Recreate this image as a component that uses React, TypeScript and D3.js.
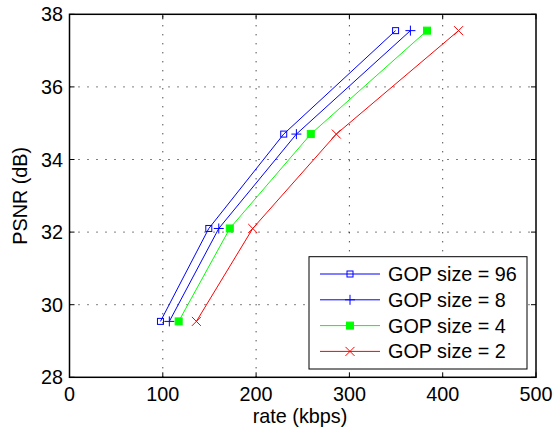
import React from "react";
import * as d3 from "d3";

const psnr = [29.54, 32.1, 34.7, 37.55];
const rateGop96 = [97.5, 149.3, 229.6, 349.5];
const rateGop8 = [107, 160, 243.2, 365.4];
const rateGop4 = [117, 171.8, 258.6, 383.2];
const rateGop2 = [136, 196.4, 286, 417];
const seriesLabels = ["GOP size = 96", "GOP size = 8", "GOP size = 4", "GOP size = 2"];
const xTicks = [0, 100, 200, 300, 400, 500];
const yTicks = [28, 30, 32, 34, 36, 38];

const W = 557, H = 428;
const L = 69.5, R = 536, T = 14.3, B = 377.3;
const FONT = "'Liberation Sans', Arial, Helvetica, sans-serif";
const FS = 19.8;

type Kind = "sq" | "plus" | "fsq" | "x";
const series: { rates: number[]; color: string; kind: Kind; label: string }[] = [
  { rates: rateGop96, color: "#0000ff", kind: "sq", label: seriesLabels[0] },
  { rates: rateGop8, color: "#0000ff", kind: "plus", label: seriesLabels[1] },
  { rates: rateGop4, color: "#00ff00", kind: "fsq", label: seriesLabels[2] },
  { rates: rateGop2, color: "#ff0000", kind: "x", label: seriesLabels[3] },
];

function Marker({ kind, x, y, color }: { kind: Kind; x: number; y: number; color: string }) {
  if (kind === "sq") return <rect x={x - 3} y={y - 3} width={6} height={6} fill="none" stroke={color} strokeWidth={1} />;
  if (kind === "fsq") return <rect x={x - 3.5} y={y - 3.5} width={7} height={7} fill={color} stroke={color} strokeWidth={1} />;
  if (kind === "plus")
    return (
      <g stroke={color} strokeWidth={1}>
        <line x1={x - 5} y1={y} x2={x + 5} y2={y} />
        <line x1={x} y1={y - 5} x2={x} y2={y + 5} />
      </g>
    );
  return (
    <g stroke={color} strokeWidth={1}>
      <line x1={x - 4.5} y1={y - 4.5} x2={x + 4.5} y2={y + 4.5} />
      <line x1={x - 4.5} y1={y + 4.5} x2={x + 4.5} y2={y - 4.5} />
    </g>
  );
}

export default function App() {
  const xs = d3.scaleLinear().domain([0, 500]).range([L, R]);
  const ys = d3.scaleLinear().domain([28, 38]).range([B, T]);
  const line = d3.line<[number, number]>().x((d) => xs(d[0])).y((d) => ys(d[1]));

  const legX0 = 309, legY0 = 256.7, legW = 218, legH = 112.3;
  const rowY = (i: number) => 274 + i * 25.8;

  return (
    <svg width={W} height={H} style={{ position: "absolute", left: 0, top: 0, background: "#fff" }} fontFamily={FONT}>
      <rect x={0} y={0} width={W} height={H} fill="#fff" />
      {/* grid */}
      <g stroke="#000" strokeWidth={1} strokeDasharray="1,8">
        {xTicks.slice(1, -1).map((t) => (
          <line key={"gx" + t} x1={xs(t)} x2={xs(t)} y1={B} y2={T} />
        ))}
        {yTicks.slice(1, -1).map((t) => (
          <line key={"gy" + t} x1={L} x2={R} y1={ys(t)} y2={ys(t)} />
        ))}
      </g>
      {/* ticks */}
      <g stroke="#000" strokeWidth={1}>
        {xTicks.map((t) => (
          <g key={"tx" + t}>
            <line x1={xs(t)} x2={xs(t)} y1={B} y2={B - 5} />
            <line x1={xs(t)} x2={xs(t)} y1={T} y2={T + 5} />
          </g>
        ))}
        {yTicks.map((t) => (
          <g key={"ty" + t}>
            <line x1={L} x2={L + 5} y1={ys(t)} y2={ys(t)} />
            <line x1={R} x2={R - 5} y1={ys(t)} y2={ys(t)} />
          </g>
        ))}
      </g>
      {/* series */}
      {series.map((s, i) => {
        const pts: [number, number][] = s.rates.map((r, j) => [r, psnr[j]]);
        return (
          <g key={"s" + i}>
            <path d={line(pts) || ""} fill="none" stroke={s.color} strokeWidth={1} />
            {pts.map((p, j) => (
              <Marker key={j} kind={s.kind} x={xs(p[0])} y={ys(p[1])} color={s.color} />
            ))}
          </g>
        );
      })}
      {/* axes box */}
      <rect x={L} y={T} width={R - L} height={B - T} fill="none" stroke="#000" strokeWidth={1.5} />
      {/* tick labels */}
      <g fontSize={FS} fill="#000">
        {xTicks.map((t) => (
          <text key={"lx" + t} x={xs(t)} y={401} textAnchor="middle">
            {t}
          </text>
        ))}
        {yTicks.map((t) => (
          <text key={"ly" + t} x={63} y={ys(t) + 7} textAnchor="end">
            {t}
          </text>
        ))}
        <text x={300} y={422.5} textAnchor="middle">
          rate (kbps)
        </text>
        <text transform={`translate(27.3, ${(T + B) / 2}) rotate(-90)`} textAnchor="middle">
          PSNR (dB)
        </text>
      </g>
      {/* legend */}
      <rect x={legX0} y={legY0} width={legW} height={legH} fill="#fff" stroke="#000" strokeWidth={1} />
      {series.map((s, i) => (
        <g key={"lg" + i}>
          <line x1={320} x2={380} y1={rowY(i)} y2={rowY(i)} stroke={s.color} strokeWidth={1} />
          <Marker kind={s.kind} x={350} y={rowY(i)} color={s.color} />
          <text x={388} y={rowY(i) + 7} fontSize={FS} fill="#000">
            {s.label}
          </text>
        </g>
      ))}
    </svg>
  );
}
